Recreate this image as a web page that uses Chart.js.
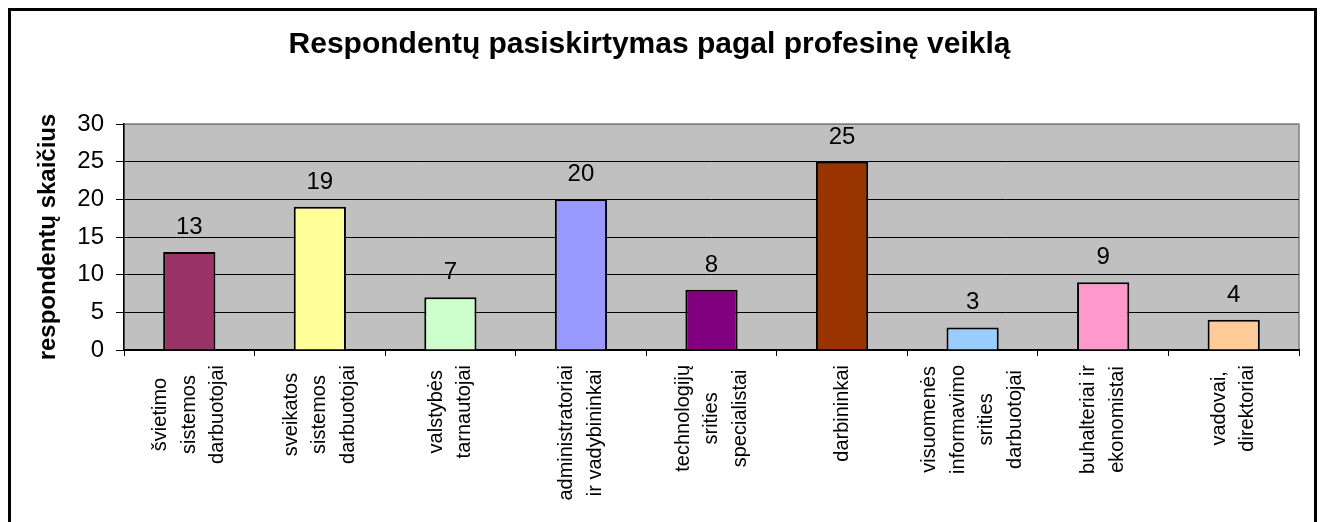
<!DOCTYPE html>
<html>
<head>
<meta charset="utf-8">
<script src="https://cdn.jsdelivr.net/npm/chart.js@4/dist/chart.umd.min.js"></script>
<style>
  html, body { margin: 0; padding: 0; background: #fff; overflow: hidden; }
  #wrap { position: relative; width: 1324px; height: 522px; }
  #frame {
    position: absolute; left: 8px; top: 8px;
    width: 1303px; height: 600px;
    border: 3px solid #000; border-bottom: none;
  }
  #chart { position: absolute; left: 0; top: 0; }
</style>
</head>
<body>
<div id="wrap">
  <div id="frame"></div>
  <canvas id="chart" width="1324" height="522"></canvas>
</div>
<script>
// Categories (each one is split on the lines the axis shows)
const categories = [
    ['švietimo', 'sistemos', 'darbuotojai'],
    ['sveikatos', 'sistemos', 'darbuotojai'],
    ['valstybės', 'tarnautojai'],
    ['administratoriai', 'ir vadybininkai'],
    ['technologijų', 'srities', 'specialistai'],
    ['darbininkai'],
    ['visuomenės', 'informavimo', 'srities', 'darbuotojai'],
    ['buhalteriai ir', 'ekonomistai'],
    ['vadovai,', 'direktoriai']
];
// Number of respondents per category
const respondents = [13, 19, 7, 20, 8, 25, 3, 9, 4];
// Y axis ticks
const yTicks = [0, 5, 10, 15, 20, 25, 30];

const barColors = ['#993366', '#FFFF99', '#CCFFCC', '#9999FF', '#800080',
                   '#993300', '#99CCFF', '#FF99CC', '#FFCC99'];

const FONT = '"Liberation Sans", Arial, sans-serif';

// gray plot area with a gray frame, like the old Excel charts
const plotBackground = {
    id: 'plotBackground',
    beforeDraw(chart) {
        const { ctx, chartArea: a } = chart;
        ctx.save();
        ctx.fillStyle = '#C0C0C0';
        ctx.fillRect(a.left, a.top, a.right - a.left, a.bottom - a.top);
        ctx.strokeStyle = '#808080';
        ctx.lineWidth = 1.5;
        ctx.strokeRect(a.left, a.top, a.right - a.left, a.bottom - a.top);
        ctx.restore();
    }
};

// value labels above the bars + rotated category labels under the axis
const labelsPlugin = {
    id: 'labelsPlugin',
    afterDraw(chart) {
        const { ctx } = chart;
        const meta = chart.getDatasetMeta(0);
        ctx.save();
        ctx.fillStyle = '#000';
        ctx.font = '24px ' + FONT;
        ctx.textAlign = 'center';
        ctx.textBaseline = 'alphabetic';
        meta.data.forEach((bar, i) => {
            ctx.fillText(String(respondents[i]), bar.x, bar.y - 18);
        });

        const xs = chart.scales.x;
        ctx.font = '20px ' + FONT;
        ctx.textBaseline = 'middle';
        categories.forEach((lines, i) => {
            const px = xs.getPixelForTick(i);
            const widest = Math.max(...lines.map(l => ctx.measureText(l).width));
            const cy = chart.chartArea.bottom + 15 + widest / 2;
            lines.forEach((line, j) => {
                const lx = px + (j - (lines.length - 1) / 2) * 28.5;
                ctx.save();
                ctx.translate(lx, cy);
                ctx.rotate(-Math.PI / 2);
                ctx.fillText(line, 0, 0);
                ctx.restore();
            });
        });
        ctx.restore();
    }
};

const ctx = document.getElementById('chart').getContext('2d');
const chart = new Chart(ctx, {
    type: 'bar',
    data: {
        labels: categories.map(c => c.join(' ')),
        datasets: [{
            data: respondents,
            backgroundColor: barColors,
            borderColor: '#000',
            borderWidth: 2,
            barPercentage: 0.4,
            categoryPercentage: 1.0
        }]
    },
    options: {
        responsive: false,
        animation: false,
        layout: { padding: { left: 0, right: 25, top: 0, bottom: 0 } },
        plugins: {
            legend: { display: false },
            tooltip: { enabled: false },
            title: {
                display: true,
                text: 'Respondentų pasiskirtymas pagal profesinę veiklą',
                color: '#000',
                font: { family: FONT, size: 30, weight: 'bold' },
                padding: { top: 27, bottom: 61 }
            }
        },
        scales: {
            x: {
                grid: {
                    offset: true,
                    drawOnChartArea: false,
                    drawTicks: true,
                    tickLength: 6,
                    color: '#000'
                },
                border: { color: '#000', width: 1.5 },
                ticks: { display: false },
                afterFit(scale) { scale.height = 172; }
            },
            y: {
                min: 0,
                max: 30,
                afterBuildTicks(scale) { scale.ticks = yTicks.map(v => ({ value: v })); },
                grid: {
                    color: c => (c.tick && c.tick.value === 30) ? '#808080' : '#000',
                    tickColor: '#000',
                    tickLength: 8,
                    lineWidth: 1
                },
                border: { color: '#000', width: 1.5 },
                ticks: {
                    color: '#000',
                    padding: 12,
                    font: { family: FONT, size: 24 }
                },
                title: {
                    display: true,
                    text: 'respondentų skaičius',
                    color: '#000',
                    font: { family: FONT, size: 24, weight: 'bold' },
                    padding: { top: 34, bottom: 0 }
                },
                afterFit(scale) { scale.width = 124; }
            }
        }
    },
    plugins: [plotBackground, labelsPlugin]
});
</script>
</body>
</html>
